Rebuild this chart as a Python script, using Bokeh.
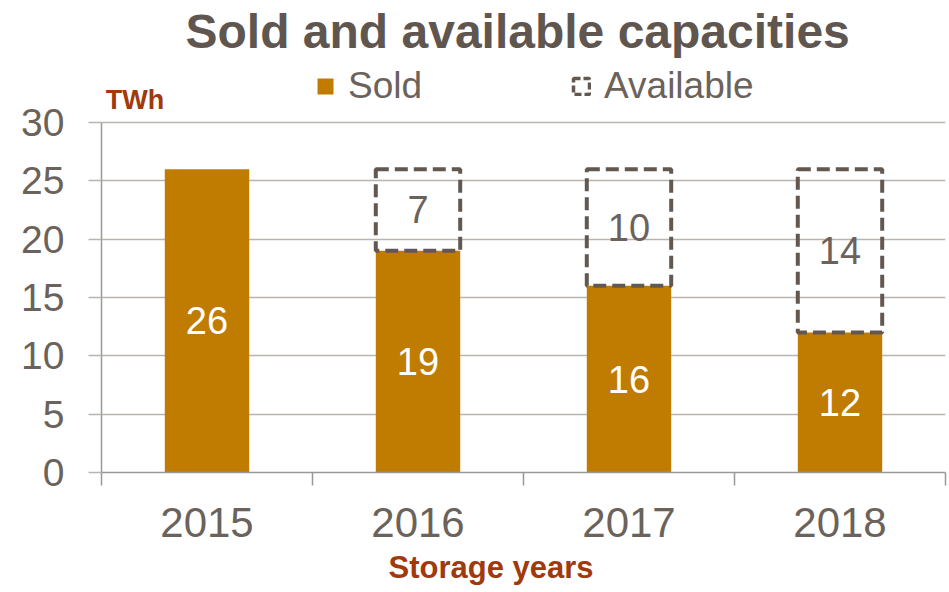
from bokeh.plotting import figure
from bokeh.models import Range1d, FixedTicker, Legend, LegendItem, Label, Title, ColumnDataSource
from bokeh.core.properties import value
from bokeh.embed import file_html
from bokeh.resources import INLINE

# ---- data ----
years = ["2015", "2016", "2017", "2018"]
sold = [26, 19, 16, 12]
available = [0, 7, 10, 14]
y_ticks = [0, 5, 10, 15, 20, 25, 30]

# ---- style ----
ORANGE = "#C07C00"
TXT = "#6B625B"
TITLE_C = "#5F5650"
DASH_C = "#625850"
RED = "#A0390C"
GRID = "#B8B4AF"
AXIS = "#999999"
FONT = "Liberation Sans"

pos = [i + 0.5 for i in range(len(years))]
src_sold = ColumnDataSource(dict(
    x=pos, top=sold, mid=[s / 2 for s in sold], lab=[str(s) for s in sold]))
idx = [i for i, a in enumerate(available) if a > 0]
src_av = ColumnDataSource(dict(
    x=[pos[i] for i in idx],
    bottom=[sold[i] for i in idx],
    top=[sold[i] + available[i] for i in idx],
    mid=[sold[i] + available[i] / 2 for i in idx],
    lab=[str(available[i]) for i in idx]))

# frame extends above the value axis so legend and unit label sit inside it
p = figure(width=949, height=592, x_range=Range1d(0, len(years)), y_range=Range1d(0, 35.57),
           output_backend="svg", toolbar_location=None,
           min_border_left=101, min_border_right=4, min_border_top=57, min_border_bottom=120)
p.outline_line_color = None
p.background_fill_color = "white"
p.border_fill_color = "white"

# title
p.title.text = "Sold and available capacities"
p.title.align = "left"
p.title.offset = 84
p.title.text_font = FONT
p.title.text_font_size = "48px"
p.title.text_font_style = "bold"
p.title.text_color = TITLE_C
p.title.standoff = 0
p.title.text_line_height = 0.8

# bars
r_sold = p.vbar(x="x", top="top", bottom=0, width=0.4, source=src_sold,
                fill_color=ORANGE, line_color=None)
r_av = p.vbar(x="x", top="top", bottom="bottom", width=0.4, source=src_av,
              fill_color=None, line_color=DASH_C, line_width=4, line_dash="13 6")
# legend swatch style for the dashed box (hidden renderer, shown only in the legend)
r_av_key = p.vbar(x="x", top="top", bottom="bottom", width=0.4, source=src_av,
                  fill_color=None, line_color=DASH_C, line_width=3.5, line_dash="7 3",
                  visible=False)

p.text(x="x", y="mid", text="lab", source=src_sold, text_align="center",
       text_baseline="middle", text_color="white", text_font=value(FONT),
       text_font_size="38px")
p.text(x="x", y="mid", text="lab", source=src_av, text_align="center",
       text_baseline="middle", text_color=TXT, text_font=value(FONT),
       text_font_size="38px")

# axes
p.xgrid.visible = False
p.ygrid.grid_line_color = GRID
p.ygrid.grid_line_width = 1.5

p.yaxis.ticker = FixedTicker(ticks=y_ticks)
p.yaxis.bounds = (0, 30)
p.yaxis.axis_line_color = AXIS
p.yaxis.axis_line_width = 1.5
p.yaxis.major_tick_line_color = GRID
p.yaxis.major_tick_line_width = 1.5
p.yaxis.major_tick_out = 13
p.yaxis.major_tick_in = 0
p.yaxis.minor_tick_line_color = None
p.yaxis.major_label_standoff = 24
p.yaxis.major_label_text_font = FONT
p.yaxis.major_label_text_font_size = "39px"
p.yaxis.major_label_text_color = TXT

p.xaxis.ticker = FixedTicker(ticks=pos, minor_ticks=list(range(len(years) + 1)))
p.xaxis.major_label_overrides = {pos[i]: years[i] for i in range(len(years))}
p.xaxis.axis_line_color = AXIS
p.xaxis.axis_line_width = 1.5
p.xaxis.major_tick_line_color = None
p.xaxis.major_tick_out = 0
p.xaxis.major_tick_in = 0
p.xaxis.minor_tick_line_color = AXIS
p.xaxis.minor_tick_line_width = 1.5
p.xaxis.minor_tick_out = 13
p.xaxis.minor_tick_in = 0
p.xaxis.major_label_standoff = 22
p.xaxis.major_label_text_font = FONT
p.xaxis.major_label_text_font_size = "42px"
p.xaxis.major_label_text_color = TXT

# x axis title (placed below the axis, left-aligned with an offset)
p.add_layout(Title(text="Storage years", align="left", offset=287, standoff=16,
                   text_font=FONT, text_font_size="31px", text_font_style="bold",
                   text_color=RED), "below")

# unit label
p.add_layout(Label(x=0.02, y=31.9, text="TWh", text_baseline="middle",
                   text_font=FONT, text_font_size="27px", text_font_style="bold",
                   text_color=RED))

# legend
legend = Legend(items=[LegendItem(label="Sold", renderers=[r_sold]),
                       LegendItem(label="Available", renderers=[r_av_key])],
                orientation="horizontal", location=(214, 365),
                border_line_color=None, background_fill_alpha=0,
                inactive_fill_alpha=0,
                glyph_width=20, glyph_height=20, label_standoff=13, spacing=149,
                padding=0, margin=0,
                label_text_font=FONT, label_text_font_size="37px", label_text_color=TXT)
p.add_layout(legend, "center")

open("out.html", "w").write(file_html(p, INLINE))
